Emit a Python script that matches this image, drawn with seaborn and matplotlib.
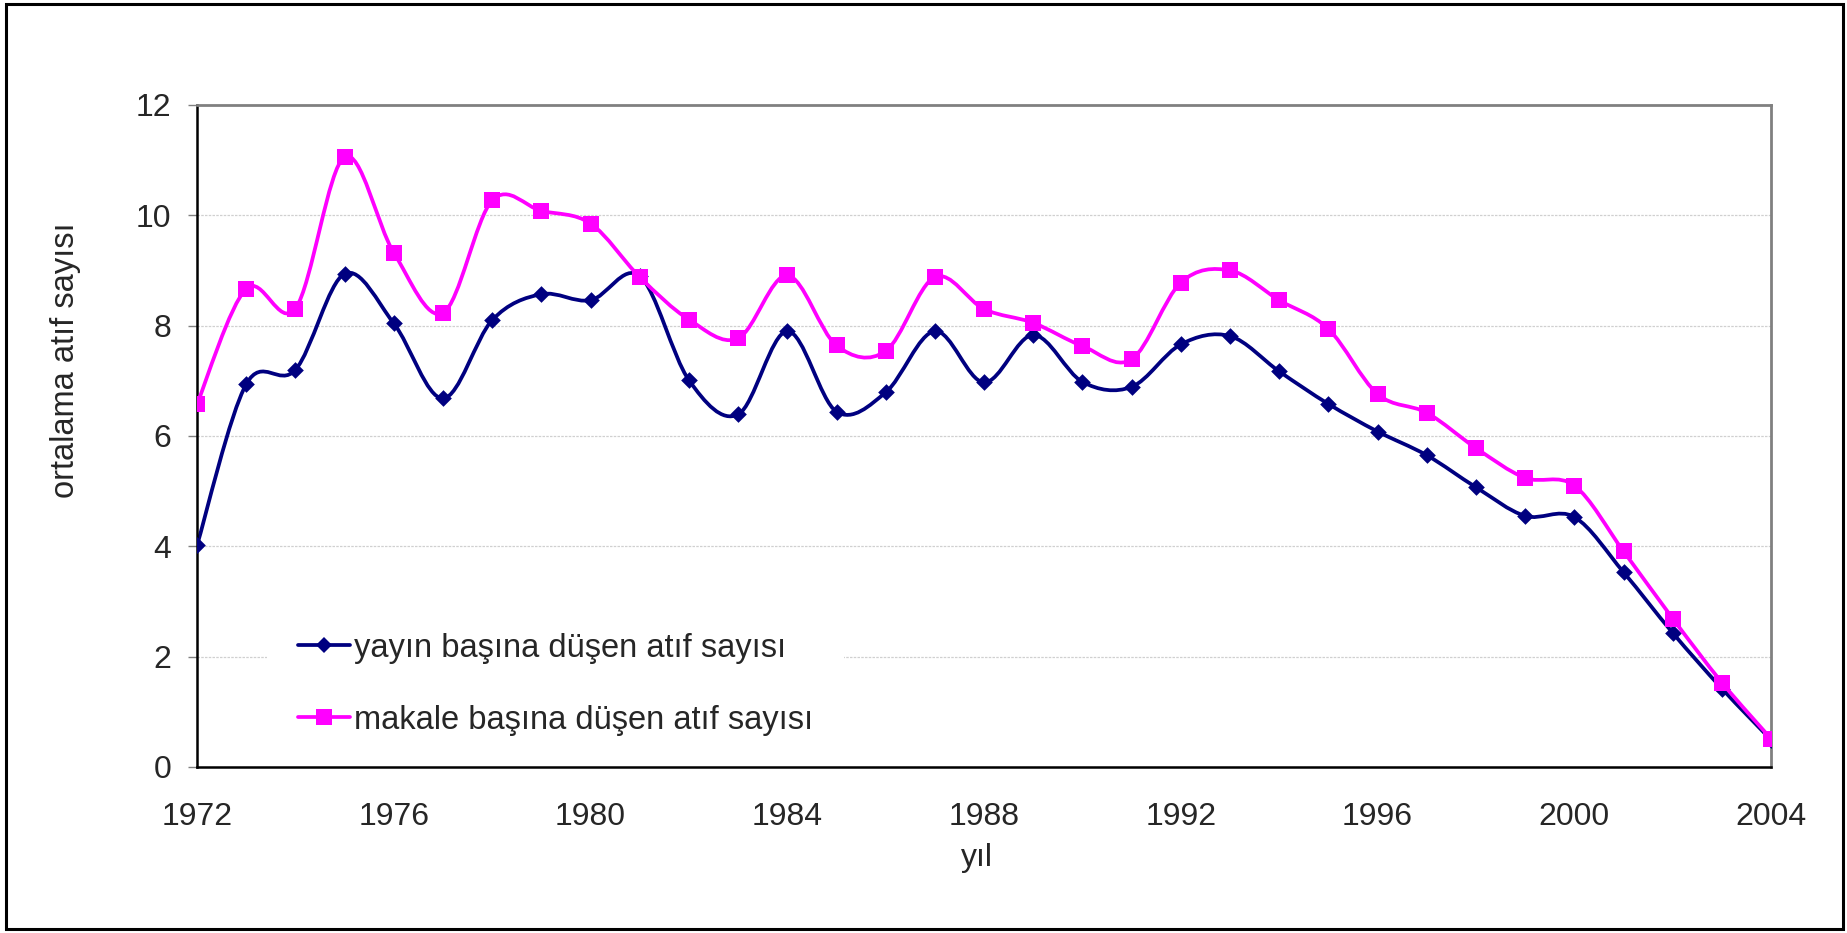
import pandas as pd
import matplotlib.pyplot as plt
import seaborn as sns
import numpy as np
from matplotlib.path import Path
from matplotlib.patches import PathPatch, Rectangle
from matplotlib.lines import Line2D

# veri
yillar = list(range(1972, 2005))
yayin_atif = [4.02, 6.94, 7.20, 8.94, 8.04, 6.68, 8.10, 8.57, 8.46, 8.90,
              7.01, 6.39, 7.90, 6.44, 6.79, 7.90, 6.97, 7.83, 6.98, 6.89,
              7.66, 7.81, 7.17, 6.58, 6.08, 5.65, 5.07, 4.55, 4.53, 3.53,
              2.43, 1.42, 0.49]
makale_atif = [6.58, 8.67, 8.31, 11.06, 9.32, 8.23, 10.27, 10.08, 9.85, 8.88,
               8.11, 7.77, 8.91, 7.64, 7.54, 8.88, 8.30, 8.05, 7.63, 7.39,
               8.78, 9.00, 8.46, 7.94, 6.76, 6.42, 5.78, 5.24, 5.10, 3.91,
               2.69, 1.53, 0.51]
seri_adlari = ['yayın başına düşen atıf sayısı', 'makale başına düşen atıf sayısı']
renkler = ['#000080', '#FF00FF']

df = pd.DataFrame({
    'yıl': yillar * 2,
    'atıf': yayin_atif + makale_atif,
    'seri': [seri_adlari[0]] * len(yillar) + [seri_adlari[1]] * len(yillar),
})

sns.set_style('white')
plt.rcParams['font.family'] = ['Liberation Sans', 'DejaVu Sans']

fig = plt.figure(figsize=(18.47, 9.33), dpi=100)
ax = fig.add_axes([0.1067, 0.178, 0.8522, 0.7095])


def excel_egri(x, y):
    # Excel'in "düzgünleştirilmiş çizgi" görünümü için bezier yolu
    p = np.column_stack([x, y]).astype(float)
    pe = np.vstack([p[0], p, p[-1]])
    verts = [p[0]]
    codes = [Path.MOVETO]
    for i in range(len(p) - 1):
        c1 = pe[i + 1] + (pe[i + 2] - pe[i]) / 6
        c2 = pe[i + 2] - (pe[i + 3] - pe[i + 1]) / 6
        verts += [c1, c2, pe[i + 2]]
        codes += [Path.CURVE4] * 3
    return Path(verts, codes)


isaretler = {seri_adlari[0]: 'D', seri_adlari[1]: 's'}
boyutlar = {seri_adlari[0]: 72, seri_adlari[1]: 135}
for i, ad in enumerate(seri_adlari):
    alt = df[df['seri'] == ad]
    ax.add_patch(PathPatch(excel_egri(alt['yıl'], alt['atıf']), fill=False,
                           edgecolor=renkler[i], lw=2.7, zorder=2 + 2 * i))
    sns.scatterplot(data=alt, x='yıl', y='atıf', marker=isaretler[ad], color=renkler[i],
                    s=boyutlar[ad], linewidth=0, ax=ax, zorder=3 + 2 * i, legend=False)

ax.set_xlim(1972, 2004)
ax.set_ylim(0, 12)
ax.set_xticks(range(1972, 2005, 4))
ax.set_yticks(range(0, 13, 2))
ax.tick_params(axis='x', length=0, pad=25, labelsize=23)
ax.tick_params(axis='y', length=6.5, width=1, color='#808080', pad=12, labelsize=23, left=True)
ax.yaxis.grid(True, color='#d0d0d0', linestyle=(0, (2, 1)), linewidth=0.9)
ax.xaxis.grid(False)
for s in ['left', 'bottom']:
    ax.spines[s].set_color('black')
    ax.spines[s].set_linewidth(1.8)
for s in ['top', 'right']:
    ax.spines[s].set_color('#808080')
    ax.spines[s].set_linewidth(2)

ax.set_xlabel('yıl', fontsize=23, va='top')
ax.xaxis.set_label_coords(0.4955, -0.115)
ax.set_ylabel('ortalama atıf sayısı', fontsize=23.5)
ax.yaxis.set_label_coords(-0.074, 0.615)

tutamaclar = [
    Line2D([], [], color=renkler[0], lw=2.7, marker='D', markersize=8.4, markeredgewidth=0),
    Line2D([], [], color=renkler[1], lw=2.7, marker='s', markersize=11.6, markeredgewidth=0),
]
leg = ax.legend(tutamaclar, seri_adlari, loc='lower left', bbox_to_anchor=(0.0445, 0.0),
                frameon=True, facecolor='white', edgecolor='none', framealpha=1,
                prop={'size': 23.5}, handlelength=1.6,
                handletextpad=0.1, labelspacing=1.26, borderpad=0.95, borderaxespad=0.0)
leg.set_zorder(1)

# dış çerçeve
fig.patches.append(Rectangle((0.003, 0.004), 0.995, 0.992, transform=fig.transFigure,
                             fill=False, edgecolor='black', lw=2.2))

plt.savefig('out.png', dpi=100)
plt.close()
